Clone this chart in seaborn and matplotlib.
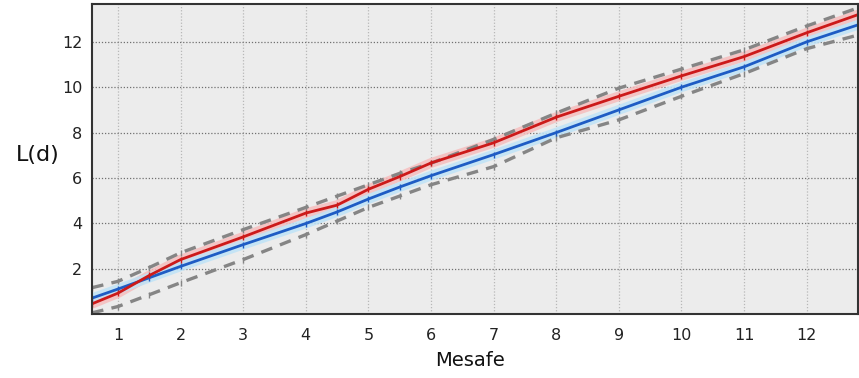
import matplotlib
matplotlib.use("Agg")
import matplotlib.pyplot as plt
import seaborn as sns
import numpy as np
import pandas as pd

# Data
dist = [0.585, 1, 1.5, 2, 3, 4, 4.5, 5, 5.5, 6, 7, 8, 9, 10, 11, 12, 12.82]
L_expected = [0.70, 1.10, 1.60, 2.10, 3.06, 3.99, 4.50, 5.07, 5.60, 6.10, 7.03, 8.00, 9.00, 10.00, 10.90, 12.00, 12.75]
L_observed = [0.45, 0.92, 1.70, 2.40, 3.40, 4.45, 4.80, 5.50, 6.06, 6.66, 7.55, 8.68, 9.60, 10.50, 11.35, 12.40, 13.20]
env_upper = [1.16, 1.44, 2.05, 2.70, 3.72, 4.70, 5.20, 5.70, 6.20, 6.65, 7.70, 8.86, 9.96, 10.80, 11.65, 12.70, 13.50]
env_lower = [0.05, 0.33, 0.85, 1.38, 2.40, 3.50, 4.10, 4.70, 5.20, 5.70, 6.50, 7.77, 8.56, 9.60, 10.60, 11.70, 12.30]
x_ticks = [1, 2, 3, 4, 5, 6, 7, 8, 9, 10, 11, 12]
y_ticks = [2, 4, 6, 8, 10, 12]

sns.set_style("white")
plt.rcParams['font.family'] = ['DejaVu Sans']

fig = plt.figure(figsize=(8.59, 3.78), dpi=100)
ax = fig.add_axes([92/859, 64/378, 766/859, 310/378])
ax.set_facecolor("#ECECEC")

# glow bands
sns.lineplot(x=dist, y=L_observed, ax=ax, color="#F6BDBD", linewidth=7, alpha=0.85)
sns.lineplot(x=dist, y=L_expected, ax=ax, color="#BFE3F7", linewidth=7, alpha=0.85)

for env in (env_upper, env_lower):
    sns.lineplot(x=dist, y=env, ax=ax, color="#858585", linewidth=2.4,
                 linestyle=(0, (3.5, 2.5)), marker="|", markersize=5,
                 markeredgewidth=1, markeredgecolor="#858585")
sns.lineplot(x=dist, y=L_expected, ax=ax, color="#1E5CC4", linewidth=2,
             marker="|", markersize=5, markeredgewidth=1, markeredgecolor="#1E5CC4")
sns.lineplot(x=dist, y=L_observed, ax=ax, color="#CC1A1A", linewidth=2,
             marker="|", markersize=5, markeredgewidth=1, markeredgecolor="#CC1A1A")

ax.set_xlim(0.585, 12.82)
ax.set_ylim(0, 13.67)
ax.set_xticks(x_ticks)
ax.set_yticks(y_ticks)
ax.set_xticklabels([str(t) for t in x_ticks], fontsize=11.5, color="#222222")
ax.set_yticklabels([str(t) for t in y_ticks], fontsize=11.5, color="#222222")

ax.xaxis.grid(True, linestyle=(0, (1, 1.5)), color="#B8B8B8", linewidth=0.9)
ax.yaxis.grid(True, linestyle=(0, (1, 1.5)), color="#707070", linewidth=0.9)
ax.set_axisbelow(True)

ax.tick_params(axis="both", direction="out", length=4, width=1, color="#333333", pad=3)
ax.tick_params(axis="x", pad=6)
for s in ax.spines.values():
    s.set_color("#333333")
    s.set_linewidth(1.5)

ax.set_xlabel("Mesafe", fontsize=14, color="#111111", labelpad=0)
ax.xaxis.set_label_coords((470-92)/766, -0.12)
ax.set_ylabel("L(d)", fontsize=16, rotation=0, color="#111111")
ax.yaxis.set_label_coords((38-92)/766, (314-165)/310)
if ax.get_legend():
    ax.get_legend().remove()

fig.savefig("out.png", dpi=100)
